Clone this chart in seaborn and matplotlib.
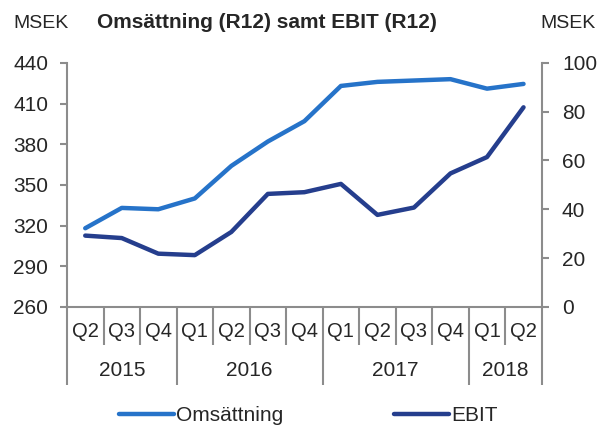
import numpy as np
import pandas as pd
import seaborn as sns
import matplotlib.pyplot as plt
from matplotlib.lines import Line2D

# Data
quarters = ["Q2", "Q3", "Q4", "Q1", "Q2", "Q3", "Q4", "Q1", "Q2", "Q3", "Q4", "Q1", "Q2"]
years = ["2015", "2016", "2017", "2018"]
quarters_per_year = [3, 4, 4, 2]
omsattning = [318, 333, 332, 340, 364, 382, 397, 423, 426, 427, 428, 421, 424.5]
ebit = [29.2, 28.2, 21.8, 21.2, 30.7, 46.3, 47.0, 50.4, 37.7, 40.7, 54.7, 61.4, 81.8]

blue = "#2673C9"
navy = "#253E8D"
grey = "#8C8C8C"
fs = 15

sns.set_style("white")
plt.rcParams["font.family"] = ["Liberation Sans", "DejaVu Sans"]
plt.rcParams["font.size"] = fs

df = pd.DataFrame({"pos": np.arange(len(quarters)), "Omsättning": omsattning, "EBIT": ebit})

fig = plt.figure(figsize=(5.98, 4.25), dpi=100)
ax = fig.add_axes([0.112, 0.278, 0.794, 0.574])
ax2 = ax.twinx()

sns.lineplot(data=df, x="pos", y="Omsättning", ax=ax, color=blue, linewidth=3.2,
             solid_capstyle="round")
sns.lineplot(data=df, x="pos", y="EBIT", ax=ax2, color=navy, linewidth=3.2,
             solid_capstyle="round")

ax.set_ylim(260, 440)
ax.set_yticks(np.arange(260, 441, 30))
ax2.set_ylim(0, 100)
ax2.set_yticks(np.arange(0, 101, 20))
ax.set_xlim(-0.5, len(quarters) - 0.5)
ax.set_xlabel("")
ax.set_ylabel("")
ax2.set_ylabel("")

for a in (ax, ax2):
    a.spines["top"].set_visible(False)
    for s in a.spines.values():
        s.set_color(grey)
        s.set_linewidth(1.5)
ax.spines["right"].set_visible(False)
ax2.spines["left"].set_visible(False)
ax2.spines["bottom"].set_visible(False)

ax.tick_params(axis="y", left=True, length=5, width=1.5, color=grey, pad=8.5, labelsize=fs)
ax2.tick_params(axis="y", right=True, length=5, width=1.5, color=grey, pad=9.5, labelsize=fs)

# category boundaries: short ticks between quarters, long ticks between years
bounds = np.arange(len(quarters) + 1) - 0.5
year_bounds = np.concatenate([[0], np.cumsum(quarters_per_year)]) - 0.5
q_bounds = [b for b in bounds if b not in year_bounds]
ax.set_xticks(year_bounds)
ax.set_xticklabels([])
ax.set_xticks(q_bounds, minor=True)
ax.tick_params(axis="x", which="major", bottom=True, length=56, width=1.5, color=grey)
ax.tick_params(axis="x", which="minor", bottom=True, length=27.5, width=1.5, color=grey)

trans = ax.get_xaxis_transform()
for i, q in enumerate(quarters):
    ax.annotate(q, xy=(i, 0), xycoords=trans, xytext=(0, -18), textcoords="offset points",
                ha="center", va="center", fontsize=fs - 0.5)
start = 0
for y, n in zip(years, quarters_per_year):
    ax.annotate(y, xy=(start + (n - 1) / 2, 0), xycoords=trans, xytext=(0, -45.5),
                textcoords="offset points", ha="center", va="center", fontsize=fs)
    start += n

fig.text(267 / 598, 1 - 23 / 425, "Omsättning (R12) samt EBIT (R12)", ha="center",
         va="center", fontsize=15, fontweight="bold")
fig.text(13 / 598, 1 - 23 / 425, "MSEK", ha="left", va="center", fontsize=14)
fig.text(540 / 598, 1 - 23 / 425, "MSEK", ha="left", va="center", fontsize=14)

handles = [Line2D([], [], color=blue, linewidth=3.2), Line2D([], [], color=navy, linewidth=3.2)]
fig.legend(handles, ["Omsättning", "EBIT"], loc="center", bbox_to_anchor=(0.515, 0.022),
           ncol=2, frameon=False, handlelength=2.65, handletextpad=0.1, columnspacing=5.3,
           fontsize=fs)

fig.savefig("out.png", dpi=100)
